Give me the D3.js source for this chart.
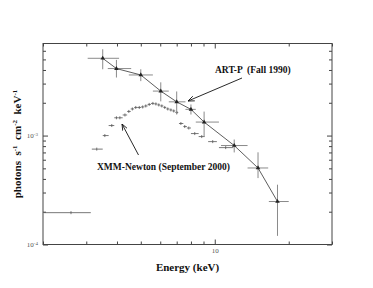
<!DOCTYPE html>
<html>
<head>
<meta charset="utf-8">
<script src="https://cdn.jsdelivr.net/npm/d3@7"></script>
<style>
body { margin: 0; background: #fff; }
svg { display: block; font-family: "Liberation Serif", "DejaVu Serif", serif; }
</style>
</head>
<body>
<div id="chart"></div>
<script>
// ART-P (Fall 1990): energy, bin edges, flux and flux errors
var artE    = [3.5, 3.98, 5.0, 6.03, 7.0, 8.0, 9.05, 12.0, 15.0, 18.0];
var artELo  = [3.04, 3.67, 4.47, 5.6, 6.5, 7.6, 8.37, 10.6, 13.6, 16.6];
var artEHi  = [4.08, 4.57, 5.6, 6.5, 7.6, 8.37, 10.4, 13.6, 16.5, 20.0];
var artF    = [5.12e-3, 4.12e-3, 3.6e-3, 2.56e-3, 2.04e-3, 1.74e-3, 1.33e-3, 0.81e-3, 0.504e-3, 0.248e-3];
var artFLo  = [4.06e-3, 3.41e-3, 3.16e-3, 2.06e-3, 1.56e-3, 1.56e-3, 0.98e-3, 0.70e-3, 0.407e-3, 0.120e-3];
var artFHi  = [6.2e-3, 4.95e-3, 4.06e-3, 3.08e-3, 2.54e-3, 1.93e-3, 1.66e-3, 0.92e-3, 0.702e-3, 0.354e-3];

// XMM-Newton (September 2000)
var xmmE   = [2.6, 3.31, 3.57, 3.81, 3.98, 4.11, 4.31, 4.47, 4.62, 4.77, 4.93, 5.09, 5.24, 5.41, 5.6, 5.76, 5.92, 6.09, 6.26, 6.44, 6.63, 6.81, 7.01, 7.28, 7.55, 7.84, 8.29, 8.85, 9.81, 11.08];
var xmmELo = [2.02, 3.16, 3.5, 3.7, 3.9, 4.05, 4.22, 4.4, 4.55, 4.7, 4.86, 5.01, 5.17, 5.33, 5.5, 5.68, 5.84, 6.0, 6.18, 6.35, 6.54, 6.72, 6.91, 7.15, 7.45, 7.7, 8.0, 8.6, 9.4, 10.4];
var xmmEHi = [3.13, 3.5, 3.7, 3.9, 4.05, 4.22, 4.4, 4.55, 4.7, 4.86, 5.01, 5.17, 5.33, 5.5, 5.68, 5.84, 6.0, 6.18, 6.35, 6.54, 6.72, 6.91, 7.1, 7.45, 7.7, 8.0, 8.6, 9.1, 10.2, 11.9];
var xmmF   = [0.196e-3, 0.751e-3, 1.0e-3, 1.236e-3, 1.456e-3, 1.456e-3, 1.545e-3, 1.665e-3, 1.755e-3, 1.811e-3, 1.811e-3, 1.831e-3, 1.87e-3, 1.931e-3, 1.972e-3, 1.951e-3, 1.91e-3, 1.87e-3, 1.811e-3, 1.755e-3, 1.718e-3, 1.682e-3, 1.629e-3, 1.29e-3, 1.21e-3, 1.173e-3, 1.043e-3, 0.979e-3, 0.88e-3, 0.775e-3];

var xMinor = [2, 3, 4, 5, 6, 7, 8, 9, 20, 30];
var xMajor = [10];
var yMinor = [2e-4, 3e-4, 4e-4, 5e-4, 6e-4, 7e-4, 8e-4, 9e-4, 2e-3, 3e-3, 4e-3, 5e-3, 6e-3];
var yMajor = [1e-4, 1e-3];

var W = 373, H = 288;
var L = 43, R = 332, T = 43.5, B = 244.5;

var svg = d3.select('#chart').append('svg')
	.attr('width', W).attr('height', H);

var x = d3.scaleLog().domain([2, 30]).range([L, R]);
var y = d3.scaleLog().domain([1e-4, 7e-3]).range([B, T]);

var axisCol = '#444';

// frame
svg.append('rect')
	.attr('x', L).attr('y', T).attr('width', R - L).attr('height', B - T)
	.attr('fill', 'none').attr('stroke', axisCol).attr('stroke-width', 1);

function styleAxis(g) {
	g.select('.domain').remove();
	g.selectAll('.tick line').attr('stroke', axisCol);
	g.selectAll('.tick text').attr('fill', '#555').attr('font-size', 7)
		.attr('font-family', '"Liberation Serif", serif');
}

// x axes (bottom with label on 10, top mirror)
svg.append('g').attr('transform', 'translate(0,' + B + ')')
	.call(d3.axisBottom(x).tickValues(xMinor).tickSize(-3).tickFormat(''))
	.call(styleAxis);
svg.append('g').attr('transform', 'translate(0,' + B + ')')
	.call(d3.axisBottom(x).tickValues(xMajor).tickSize(-5).tickPadding(4).tickFormat(d3.format('d')))
	.call(styleAxis);
svg.append('g').attr('transform', 'translate(0,' + T + ')')
	.call(d3.axisTop(x).tickValues(xMinor).tickSize(-3).tickFormat(''))
	.call(styleAxis);
svg.append('g').attr('transform', 'translate(0,' + T + ')')
	.call(d3.axisTop(x).tickValues(xMajor).tickSize(-5).tickFormat(''))
	.call(styleAxis);

// y axes
svg.append('g').attr('transform', 'translate(' + L + ',0)')
	.call(d3.axisLeft(y).tickValues(yMinor).tickSize(-3).tickFormat(''))
	.call(styleAxis);
var yLab = svg.append('g').attr('transform', 'translate(' + L + ',0)')
	.call(d3.axisLeft(y).tickValues(yMajor).tickSize(-5).tickPadding(5).tickFormat(''))
	.call(styleAxis);
yLab.selectAll('.tick text')
	.each(function(d) {
		var t = d3.select(this);
		t.append('tspan').text('10');
		t.append('tspan').attr('dy', '-0.45em').attr('font-size', 5)
			.text('-' + Math.round(-Math.log10(d)));
	});
svg.append('g').attr('transform', 'translate(' + R + ',0)')
	.call(d3.axisRight(y).tickValues(yMinor).tickSize(-3).tickFormat(''))
	.call(styleAxis);
svg.append('g').attr('transform', 'translate(' + R + ',0)')
	.call(d3.axisRight(y).tickValues(yMajor).tickSize(-5).tickFormat(''))
	.call(styleAxis);

var plot = svg.append('g');

// XMM points: horizontal bin bars and small plus markers
var xmm = xmmE.map(function(e, i) {
	return { e: e, lo: xmmELo[i], hi: xmmEHi[i], f: xmmF[i] };
});
var xg = plot.append('g').attr('stroke', '#555').attr('stroke-width', 0.8);
xg.selectAll('line.h').data(xmm).enter().append('line')
	.attr('x1', function(d) { return x(d.lo); })
	.attr('x2', function(d) { return x(d.hi); })
	.attr('y1', function(d) { return y(d.f); })
	.attr('y2', function(d) { return y(d.f); });
xg.selectAll('line.v').data(xmm).enter().append('line')
	.attr('x1', function(d) { return x(d.e); })
	.attr('x2', function(d) { return x(d.e); })
	.attr('y1', function(d) { return y(d.f) - 1.5; })
	.attr('y2', function(d) { return y(d.f) + 1.5; });

// ART-P points
var art = artE.map(function(e, i) {
	return { e: e, lo: artELo[i], hi: artEHi[i], f: artF[i], flo: artFLo[i], fhi: artFHi[i] };
});
var ag = plot.append('g').attr('stroke', '#8a8a8a').attr('stroke-width', 1);
ag.selectAll('line.h').data(art).enter().append('line')
	.attr('x1', function(d) { return x(d.lo); })
	.attr('x2', function(d) { return x(d.hi); })
	.attr('y1', function(d) { return y(d.f); })
	.attr('y2', function(d) { return y(d.f); });
ag.selectAll('line.v').data(art).enter().append('line')
	.attr('x1', function(d) { return x(d.e); })
	.attr('x2', function(d) { return x(d.e); })
	.attr('y1', function(d) { return y(d.fhi); })
	.attr('y2', function(d) { return y(d.flo); });

plot.append('path').datum(art)
	.attr('fill', 'none').attr('stroke', '#333').attr('stroke-width', 0.8)
	.attr('d', d3.line().x(function(d) { return x(d.e); }).y(function(d) { return y(d.f); }));

plot.selectAll('path.mk').data(art).enter().append('path')
	.attr('d', d3.symbol().type(d3.symbolTriangle).size(9))
	.attr('transform', function(d) { return 'translate(' + x(d.e) + ',' + y(d.f) + ')'; })
	.attr('fill', '#222');

// annotations
svg.append('defs').append('marker')
	.attr('id', 'arr').attr('viewBox', '0 0 10 10').attr('refX', 10).attr('refY', 5)
	.attr('markerWidth', 7).attr('markerHeight', 7).attr('orient', 'auto')
	.append('path').attr('d', 'M0,1 L10,5 L0,9').attr('fill', 'none')
	.attr('stroke', '#111').attr('stroke-width', 1.3);

svg.append('text').attr('x', 215).attr('y', 73)
	.attr('font-weight', 'bold').attr('font-size', 9.5).attr('fill', '#111')
	.attr('xml:space', 'preserve').text('ART-P  (Fall 1990)');
svg.append('line').attr('x1', 242).attr('y1', 78).attr('x2', 188).attr('y2', 101)
	.attr('stroke', '#111').attr('stroke-width', 0.9).attr('marker-end', 'url(#arr)');

svg.append('text').attr('x', 97).attr('y', 169.5)
	.attr('font-weight', 'bold').attr('font-size', 9.5).attr('fill', '#111')
	.text('XMM-Newton (September 2000)');
svg.append('line').attr('x1', 138.5).attr('y1', 155).attr('x2', 122).attr('y2', 124)
	.attr('stroke', '#111').attr('stroke-width', 0.9).attr('marker-end', 'url(#arr)');

// axis titles
svg.append('text').attr('x', (L + R) / 2).attr('y', 271)
	.attr('text-anchor', 'middle').attr('font-weight', 'bold').attr('font-size', 11)
	.attr('fill', '#111').text('Energy (keV)');

var yt = svg.append('text')
	.attr('transform', 'translate(21,' + ((T + B) / 2) + ') rotate(-90)')
	.attr('text-anchor', 'middle').attr('font-weight', 'bold').attr('font-size', 11)
	.attr('fill', '#111');
yt.append('tspan').text('photons  s');
yt.append('tspan').attr('dy', -4).attr('font-size', 7).text('-1');
yt.append('tspan').attr('dy', 4).text('  cm');
yt.append('tspan').attr('dy', -4).attr('font-size', 7).text('-2');
yt.append('tspan').attr('dy', 4).text('  keV');
yt.append('tspan').attr('dy', -4).attr('font-size', 7).text('-1');
yt.attr('xml:space', 'preserve');
</script>
</body>
</html>
